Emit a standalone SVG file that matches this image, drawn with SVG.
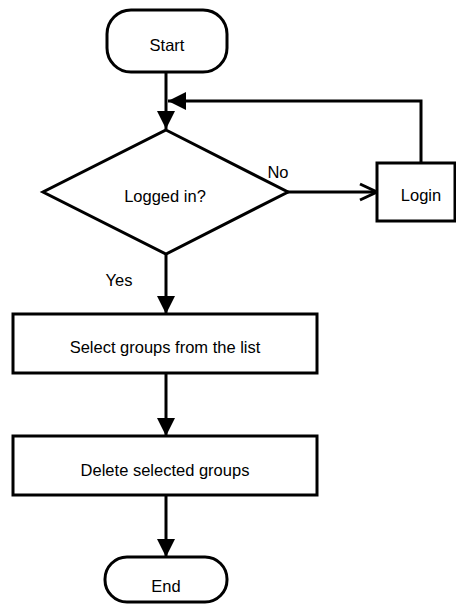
<svg xmlns="http://www.w3.org/2000/svg" width="456" height="605" viewBox="0 0 456 605">
<style>
.s{fill:#fff;stroke:#000;stroke-width:3}
.c{fill:none;stroke:#000;stroke-width:3}
text{font-family:"Liberation Sans",Arial,sans-serif;font-size:16.5px;fill:#000;text-anchor:middle}
</style>
<defs>
<marker id="fa" markerUnits="userSpaceOnUse" markerWidth="20" markerHeight="20" refX="18" refY="9" orient="auto">
<path d="M0,0 L18,9 L0,18 Z" fill="#000"/>
</marker>
<marker id="oa" markerUnits="userSpaceOnUse" markerWidth="22" markerHeight="22" refX="18" refY="10" orient="auto">
<path d="M1,2 L18,10 L1,18" fill="none" stroke="#000" stroke-width="3"/>
</marker>
</defs>
<g id="connectors">
<path class="c" d="M166,72 V129" marker-end="url(#fa)"/>
<path class="c" d="M421,163 V101 H168" marker-end="url(#fa)"/>
<path class="c" d="M287,192 H377" marker-end="url(#oa)"/>
<path class="c" d="M166,253 V314" marker-end="url(#fa)"/>
<path class="c" d="M166,373 V436" marker-end="url(#fa)"/>
<path class="c" d="M166,495 V557" marker-end="url(#fa)"/>
<text x="278" y="178">No</text>
<text x="119" y="286">Yes</text>
</g>
<g id="start">
<rect class="s" x="107" y="10" width="120" height="62" rx="24"/>
<text x="167" y="51">Start</text>
</g>
<g id="logged">
<polygon class="s" points="166,130 288,192 166,254 43,192"/>
<text x="165" y="202">Logged in?</text>
</g>
<g id="login">
<rect class="s" x="377" y="163" width="78" height="58"/>
<text x="421" y="201">Login</text>
</g>
<g id="select">
<rect class="s" x="13" y="314" width="304" height="59"/>
<text x="165" y="353">Select groups from the list</text>
</g>
<g id="delete">
<rect class="s" x="13" y="436" width="304" height="59"/>
<text x="165" y="476">Delete selected groups</text>
</g>
<g id="end">
<rect class="s" x="105" y="557" width="122" height="45" rx="22"/>
<text x="166" y="592">End</text>
</g>
</svg>
